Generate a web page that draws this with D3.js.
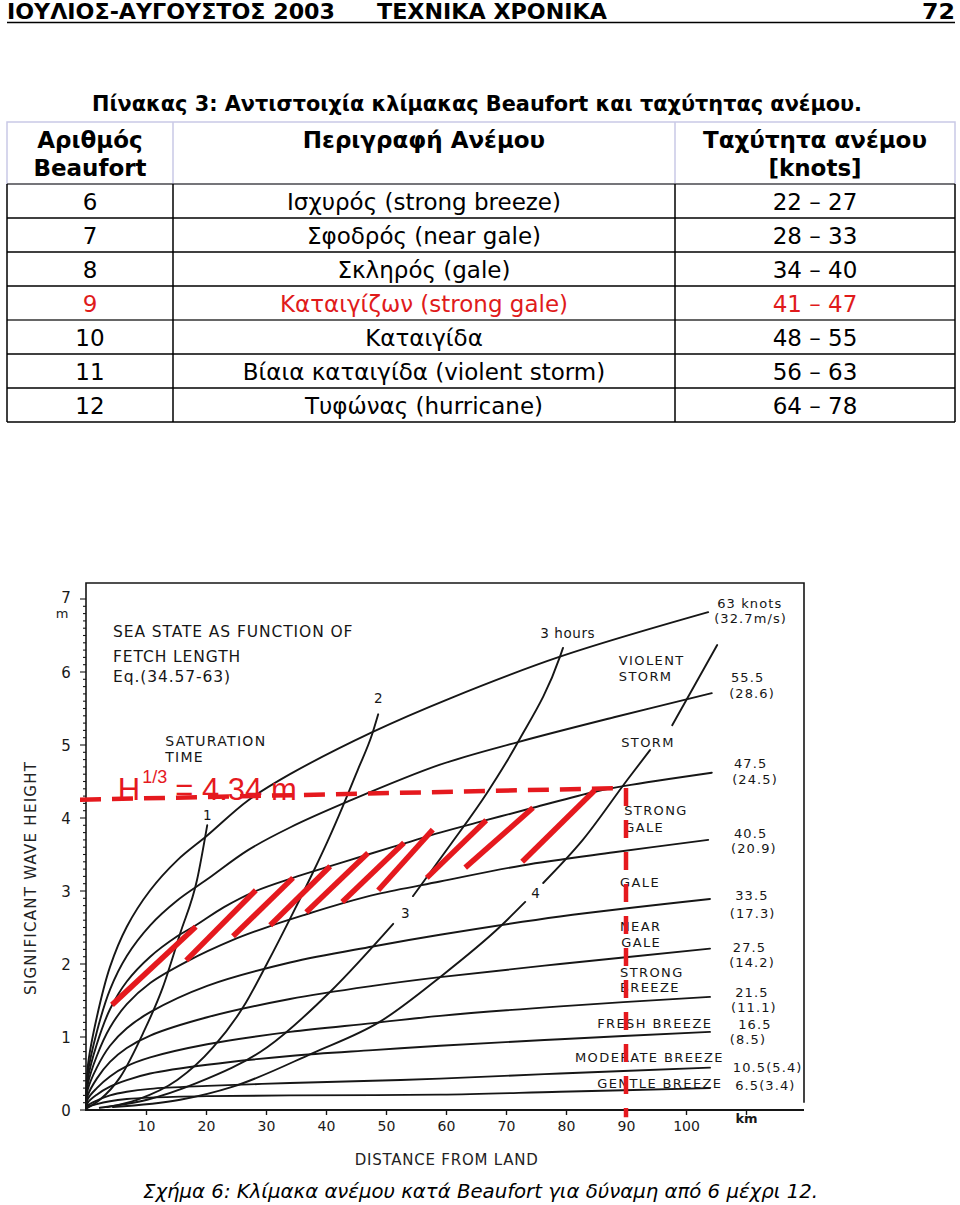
<!DOCTYPE html>
<html><head><meta charset="utf-8">
<script src="https://cdn.jsdelivr.net/npm/d3@7/dist/d3.min.js"></script>
<style>body{margin:0;background:#fff}svg{display:block}</style>
</head><body>
<svg id="page" width="960" height="1205"></svg>
<script>
// ---------------- DATA ----------------
const pageHeader = ["ΙΟΥΛΙΟΣ-ΑΥΓΟΥΣΤΟΣ 2003", "ΤΕΧΝΙΚΑ ΧΡΟΝΙΚΑ", "72"];
const tableTitle = "Πίνακας 3: Αντιστοιχία κλίμακας Beaufort και ταχύτητας ανέμου.";
const tableHeaders = [["Αριθμός", "Beaufort"], ["Περιγραφή Ανέμου"], ["Ταχύτητα ανέμου", "[knots]"]];
const beaufortNumbers = ["6", "7", "8", "9", "10", "11", "12"];
const windDescriptions = ["Ισχυρός (strong breeze)", "Σφοδρός (near gale)", "Σκληρός (gale)",
  "Καταιγίζων (strong gale)", "Καταιγίδα", "Βίαια καταιγίδα (violent storm)", "Τυφώνας (hurricane)"];
const windSpeedRanges = ["22 – 27", "28 – 33", "34 – 40", "41 – 47", "48 – 55", "56 – 63", "64 – 78"];
const highlightedBeaufort = "9";
const figureCaption = "Σχήμα 6: Κλίμακα ανέμου κατά Beaufort για δύναμη από 6 μέχρι 12.";

// chart axes
const xTickValues = [10, 20, 30, 40, 50, 60, 70, 80, 90, 100];
const yTickValues = [0, 1, 2, 3, 4, 5, 6, 7];

// wind-speed curves: [fetch km, significant wave height m]
const curve63 = [[0,0],[0.3,0.6],[1.8,1.27],[4,1.96],[6.8,2.51],[10.7,3.01],[15.2,3.42],[20.2,3.76],[27,4.24],[34,4.6],[47.8,5.18],[60.7,5.64],[79,6.21],[103.7,6.82]];
const curve55 = [[0,0],[0.3,0.5],[1.8,1.07],[4,1.65],[6.8,2.11],[10.7,2.53],[15.2,2.87],[20.2,3.16],[27,3.56],[34,3.87],[43.5,4.22],[59,4.73],[72,5.04],[88,5.38],[104.3,5.71]];
const curve47 = [[0,0],[0.3,0.42],[1.8,0.9],[4,1.38],[6.8,1.76],[10.7,2.1],[15.2,2.38],[18.3,2.53],[23,2.78],[28.3,3.0],[34.5,3.18],[40.7,3.34],[47,3.5],[53,3.65],[59,3.8],[66.7,3.97],[74.5,4.14],[84.8,4.36],[89.8,4.44],[104.3,4.62]];
const curve40 = [[0,0],[0.3,0.35],[1.8,0.74],[4,1.13],[6.8,1.45],[10.7,1.74],[16.7,2.03],[24.5,2.33],[30.7,2.52],[36.7,2.68],[42.7,2.83],[48.7,2.96],[59,3.13],[72.7,3.35],[88,3.53],[103.7,3.7]];
const curve33 = [[0,0],[0.3,0.28],[1.8,0.58],[4,0.88],[6.8,1.12],[10.7,1.34],[20.2,1.7],[34,2.02],[47.8,2.24],[59,2.4],[79,2.65],[104,2.89]];
const curve27 = [[0,0],[0.3,0.2],[1.8,0.43],[4,0.66],[6.8,0.85],[10.7,1.02],[20.2,1.27],[34,1.52],[47.8,1.7],[59,1.82],[79,2.0],[104,2.21]];
const curve21 = [[0,0],[0.3,0.15],[1.8,0.3],[4,0.46],[6.8,0.6],[10.7,0.72],[20.2,0.9],[34,1.07],[47.8,1.19],[59,1.29],[79,1.42],[104,1.55]];
const curve16 = [[0,0],[0.3,0.1],[1.8,0.21],[4,0.32],[6.8,0.41],[10.7,0.5],[20.2,0.62],[34,0.74],[47.8,0.82],[59,0.88],[79,0.97],[104,1.07]];
const curve10 = [[0,0],[0.3,0.06],[1.8,0.13],[4,0.2],[6.8,0.25],[10.7,0.29],[20.2,0.33],[34,0.37],[47.8,0.4],[59,0.43],[79,0.5],[104,0.58]];
const curve06 = [[0,0],[0.3,0.04],[1.8,0.08],[4,0.12],[6.8,0.15],[10.7,0.17],[20.2,0.19],[34,0.2],[59,0.21],[79,0.25],[104,0.3]];

// duration (saturation time) curves, split where a label interrupts them
const hours1 = [[0.3,0.03],[2.3,0.14],[5.7,0.45],[9.5,1.05],[12.8,1.68],[15.7,2.42],[18.5,3.15],[20.2,3.9]];
const hours2 = [[3.5,0.04],[8.5,0.14],[15.2,0.41],[21.2,0.86],[26.2,1.41],[30.2,2.01],[34.5,2.7],[37.8,3.25],[40.2,3.67],[42.8,4.16],[45.3,4.66],[47.7,5.15],[48.7,5.42]];
const hours3Low = [[2.3,0.03],[10.2,0.14],[18.5,0.37],[30.2,0.86],[40.7,1.62],[51.2,2.55]];
const hours3High = [[54.5,2.93],[60.7,3.63],[66.8,4.34],[72,5.04],[79,6.21],[79.5,6.33]];
const hours4Low = [[4.5,0.04],[15.7,0.14],[24.5,0.32],[37.8,0.78],[49,1.21],[59,1.82],[69,2.51],[73.2,2.85]];
const hours4High = [[76.2,3.11],[82.8,3.7],[90.2,4.52],[94,4.93]];
const hours5Part = [[97.7,5.27],[105.2,6.37]];

// red overlay: strong-gale band hatching and the reading for 90 km
const hatchStrokes = [
  [[4.33,1.44],[18.3,2.51]], [[16.7,2.05],[28.3,3.01]], [[24.5,2.38],[34.5,3.18]],
  [[30.7,2.53],[40.7,3.34]], [[36.7,2.71],[47.0,3.52]], [[42.7,2.85],[53.0,3.66]],
  [[48.7,3.01],[57.8,3.84]], [[56.8,3.18],[66.7,3.97]], [[63.2,3.32],[74.5,4.14]],
  [[72.7,3.40],[84.8,4.38]]];
const readingLine = [[-1,4.25],[89.5,4.41]];
const readingFetch = [[90,4.41],[90,-0.1]];

// chart annotations [text, km, m]
const windLabels = [["63 knots",105.2,6.88],["(32.7m/s)",104.7,6.67],["55.5",107.5,5.86],["(28.6)",107.2,5.64],
  ["47.5",108,4.68],["(24.5)",107.7,4.47],["40.5",108,3.73],["(20.9)",107.5,3.52],["33.5",108.2,2.88],["(17.3)",107.3,2.63],
  ["27.5",107.8,2.16],["(14.2)",107.2,1.96],["21.5",108.2,1.55],["(11.1)",107.5,1.34],["16.5",108.7,1.11],["(8.5)",107.3,0.9],
  ["10.5(5.4)",107.8,0.52],["6.5(3.4)",108.2,0.27]];
const stateLabels = [["VIOLENT",88.8,6.09],["STORM",88.8,5.88],["STORM",89.2,4.97],["STRONG",89.7,4.04],["GALE",89.7,3.81],
  ["GALE",89,3.05],["NEAR",89,2.45],["GALE",89.2,2.23],["STRONG",89,1.82],["BREEZE",89,1.61],
  ["FRESH BREEZE",85.2,1.12],["MODERATE BREEZE",81.5,0.66],["GENTLE BREEZE",85.2,0.3]];
const titleLabels = [["SEA STATE AS FUNCTION OF",4.5,6.48],["FETCH LENGTH",4.5,6.14],["Eq.(34.57-63)",4.5,5.86]];
const saturationLabels = [["SATURATION",13.2,4.99],["TIME",13.2,4.77]];
const hourLabels = [["1",19.5,3.97],["2",48,5.58],["3 hours",75.7,6.47],["3",52.5,2.63],["4",74.2,2.9]];

// ---------------- DRAWING ----------------
const svg = d3.select("#page");
const SANS = "'DejaVu Sans', Verdana, sans-serif";
const TECH = "'DejaVu Sans', sans-serif";

// header
const hdr = svg.append("g").attr("font-family", SANS).attr("font-weight", "bold").attr("font-size", 21).attr("fill", "#000");
hdr.append("text").attr("x", 7).attr("y", 19).attr("textLength", 328).attr("lengthAdjust", "spacingAndGlyphs").text(pageHeader[0]);
hdr.append("text").attr("x", 377).attr("y", 19).attr("textLength", 230).attr("lengthAdjust", "spacingAndGlyphs").text(pageHeader[1]);
hdr.append("text").attr("x", 955).attr("y", 19).attr("text-anchor", "end").attr("textLength", 33).attr("lengthAdjust", "spacingAndGlyphs").text(pageHeader[2]);
svg.append("line").attr("x1", 7).attr("x2", 955).attr("y1", 22.5).attr("y2", 22.5).attr("stroke", "#000").attr("stroke-width", 1.6);

svg.append("text").attr("x", 92).attr("y", 111).attr("font-family", SANS).attr("font-weight", "bold").attr("font-size", 21)
  .attr("textLength", 770).attr("lengthAdjust", "spacingAndGlyphs").text(tableTitle);

// table
const colEdges = [7, 173, 675, 955];
const headTop = 122, headBottom = 184, rowH = 34;
const colCenter = i => (colEdges[i] + colEdges[i + 1]) / 2;
const tbl = svg.append("g");
const rowsY = d3.range(beaufortNumbers.length + 1).map(i => headBottom + i * rowH);
tbl.append("rect").attr("x", colEdges[0]).attr("y", headTop).attr("width", colEdges[3] - colEdges[0]).attr("height", headBottom - headTop)
  .attr("fill", "none").attr("stroke", "#c9c9e6").attr("stroke-width", 1.5);
[1, 2].forEach(i => tbl.append("line").attr("x1", colEdges[i]).attr("x2", colEdges[i]).attr("y1", headTop).attr("y2", headBottom)
  .attr("stroke", "#c9c9e6").attr("stroke-width", 1.5));
rowsY.forEach((yv, i) => tbl.append("line").attr("x1", colEdges[0]).attr("x2", colEdges[3]).attr("y1", yv).attr("y2", yv)
  .attr("stroke", i === 0 ? "#555" : (i === 4 ? "#666" : "#000")).attr("stroke-width", i === 4 ? 2.2 : 1.5));
colEdges.forEach(xv => tbl.append("line").attr("x1", xv).attr("x2", xv).attr("y1", headBottom).attr("y2", rowsY[rowsY.length - 1])
  .attr("stroke", "#000").attr("stroke-width", 1.5));
tableHeaders.forEach((lines, i) => lines.forEach((t, j) => tbl.append("text").attr("x", colCenter(i)).attr("y", 148 + j * 28)
  .attr("text-anchor", "middle").attr("font-family", SANS).attr("font-weight", "bold").attr("font-size", 23).text(t)));
const rowData = beaufortNumbers.map((b, i) => [b, windDescriptions[i], windSpeedRanges[i]]);
const rows = tbl.selectAll("g.row").data(rowData).join("g").attr("class", "row")
  .attr("fill", d => d[0] === highlightedBeaufort ? "#e01b1b" : "#000");
rows.each(function (d, i) {
  d3.select(this).selectAll("text").data(d).join("text")
    .attr("x", (v, j) => colCenter(j)).attr("y", rowsY[i] + 26).attr("text-anchor", "middle")
    .attr("font-family", SANS).attr("font-size", 23).text(v => v);
});

// chart
const x = d3.scaleLinear().domain([0, 100]).range([86, 686]);
const y = d3.scaleLinear().domain([0, 7]).range([1110, 599]);
const ch = svg.append("g").attr("font-family", TECH).attr("fill", "#111");
const ink = "#161616";

// frame
const xMax = x.invert(804), yMax = y.invert(583);
ch.append("path").attr("d", d3.line()([[x(0), y(0)], [x(0), y(yMax)], [x(xMax), y(yMax)], [x(xMax), y(0.1)]]))
  .attr("fill", "none").attr("stroke", ink).attr("stroke-width", 1.6);

// x axis
const xAxis = d3.axisBottom(x).tickValues(xTickValues.concat([110])).tickSize(5).tickFormat(d => d === 110 ? "km" : d);
const gx = ch.append("g").attr("transform", `translate(0,${y(0)})`).call(xAxis);
gx.select(".domain").attr("d", `M${x(0)},0H${x(xMax)}`).attr("stroke", ink).attr("stroke-width", 1.8);
gx.selectAll(".tick line").attr("stroke", ink).attr("stroke-width", 1.4);
gx.selectAll(".tick text").attr("font-family", TECH).attr("font-size", 14).attr("fill", "#1a1a1a").attr("dy", "0.9em");
gx.selectAll(".tick text").filter(d => d === 110).attr("font-weight", "bold").attr("font-size", 13).attr("dy", "0.4em");

// y axis with 0.1 m minor ticks
const gy = ch.append("g").attr("transform", `translate(${x(0)},0)`);
gy.selectAll("line.minor").data(d3.range(0, 71)).join("line").attr("class", "minor")
  .attr("x1", 0).attr("x2", d => d % 10 === 0 ? -6 : -3)
  .attr("y1", d => y(d / 10)).attr("y2", d => y(d / 10)).attr("stroke", ink).attr("stroke-width", 1.1);
gy.selectAll("text.yt").data(yTickValues).join("text").attr("class", "yt").attr("x", -20).attr("y", d => y(d) + (d === 7 ? 4 : 6))
  .attr("text-anchor", "middle").attr("font-size", 15).attr("fill", "#1a1a1a").text(d => d);
gy.append("text").attr("x", -24).attr("y", y(7) + 19).attr("text-anchor", "middle").attr("font-size", 13).attr("fill", "#1a1a1a").text("m");

ch.append("text").attr("transform", `translate(36,${y(3.17)}) rotate(-90)`).attr("text-anchor", "middle")
  .attr("font-size", 15).attr("textLength", 233).attr("lengthAdjust", "spacing").attr("fill", "#222").text("SIGNIFICANT WAVE HEIGHT");
ch.append("text").attr("x", x(44.8)).attr("y", 1165).attr("font-size", 15).attr("textLength", 183).attr("lengthAdjust", "spacing")
  .attr("fill", "#222").text("DISTANCE FROM LAND");

// curves
const windLine = d3.line().x(d => x(d[0])).y(d => y(d[1])).curve(d3.curveCatmullRom.alpha(0.5));
const durLine = d3.line().x(d => x(d[0])).y(d => y(d[1])).curve(d3.curveMonotoneX);
const windCurves = [curve63, curve55, curve47, curve40, curve33, curve27, curve21, curve16, curve10, curve06];
const durationCurves = [hours1, hours2, hours3Low, hours3High, hours4Low, hours4High, hours5Part];
const curveG = ch.append("g").attr("fill", "none").attr("stroke", ink).attr("stroke-width", 1.9).attr("stroke-linecap", "round");
curveG.append("g").selectAll("path").data(windCurves).join("path").attr("d", windLine);
curveG.append("g").selectAll("path").data(durationCurves).join("path").attr("d", durLine);

// labels
const labelGroup = ch.append("g").attr("fill", "#161616");
const addLabels = (arr, size, spacing) => labelGroup.append("g").selectAll("text").data(arr).join("text")
  .attr("x", d => x(d[1])).attr("y", d => y(d[2])).attr("font-size", size).attr("letter-spacing", spacing).text(d => d[0]);
addLabels(titleLabels, 15.5, 0.9);
addLabels(saturationLabels, 14, 1.3);
addLabels(stateLabels, 13, 1.4);
addLabels(windLabels, 13, 1.1);
addLabels(hourLabels, 13.5, 0.6);

// red overlay
const red = "#e5191e";
const ov = svg.append("g");
ov.selectAll("line.hatch").data(hatchStrokes).join("line").attr("class", "hatch")
  .attr("x1", d => x(d[0][0])).attr("y1", d => y(d[0][1])).attr("x2", d => x(d[1][0])).attr("y2", d => y(d[1][1]))
  .attr("stroke", red).attr("stroke-width", 5.5);
ov.append("path").attr("d", d3.line().x(d => x(d[0])).y(d => y(d[1]))(readingLine))
  .attr("stroke", red).attr("stroke-width", 4.5).attr("stroke-dasharray", "21,11").attr("fill", "none");
ov.append("path").attr("d", d3.line().x(d => x(d[0])).y(d => y(d[1]))(readingFetch))
  .attr("stroke", red).attr("stroke-width", 4.5).attr("stroke-dasharray", "18,14").attr("fill", "none");
const hl = ov.append("text").attr("x", x(5.3)).attr("y", y(4.24)).attr("font-family", "'Liberation Sans', Arial, sans-serif")
  .attr("fill", red).attr("font-size", 31);
hl.append("tspan").text("H");
hl.append("tspan").attr("font-size", 18).attr("dy", -17).attr("dx", 2).text("1/3");
hl.append("tspan").attr("dy", 17).attr("dx", 8).text("= 4.34 m");

// caption
svg.append("text").attr("x", 143).attr("y", 1198).attr("font-family", SANS).attr("font-style", "italic").attr("font-size", 20)
  .attr("textLength", 675).attr("lengthAdjust", "spacingAndGlyphs").text(figureCaption);
</script>
</body></html>
